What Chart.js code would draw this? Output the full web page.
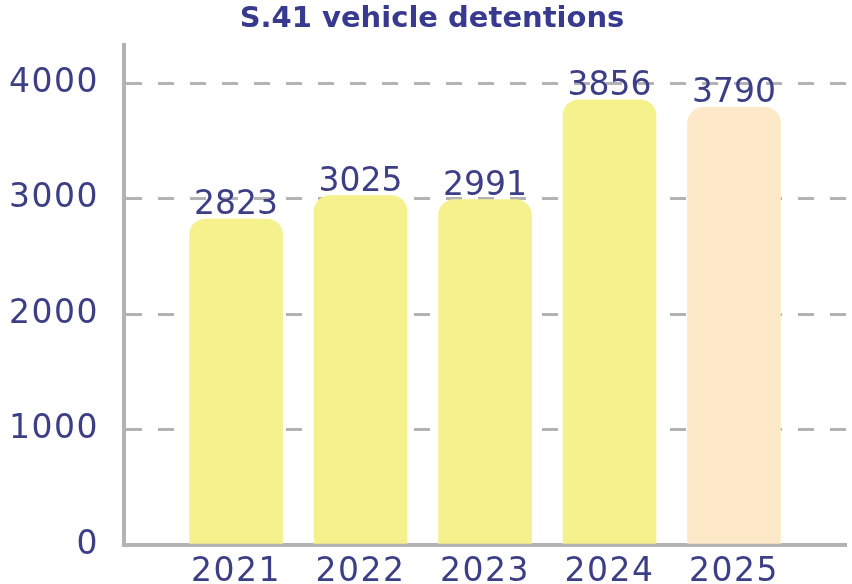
<!DOCTYPE html>
<html>
<head>
<meta charset="utf-8">
<script src="https://cdn.jsdelivr.net/npm/chart.js@4"></script>
<style>
  html, body { margin: 0; padding: 0; background: #ffffff; }
  #wrap { width: 852px; height: 584px; }
</style>
</head>
<body>
<div id="wrap"><canvas id="detentionsChart"></canvas></div>
<script>
// Chart data
const chartTitle = 'S.41 vehicle detentions';
const years = ['2021', '2022', '2023', '2024', '2025'];
const detentions = [2823, 3025, 2991, 3856, 3790];
const yTicks = [0, 1000, 2000, 3000, 4000];
const barColors = ['#f5f18c', '#f5f18c', '#f5f18c', '#f5f18c', '#fde9c7'];

const textColor = '#3c3f86';
const titleColor = '#373a8e';
const axisColor = '#b3b3b6';
const numFont = '"DejaVu Sans", sans-serif';

// Wider spacing for the axis numbers
const numberSpacing = {
    id: 'numberSpacing',
    beforeDraw(chart) {
        chart.ctx.letterSpacing = '1.5px';
    }
};

// Value labels above each bar + the title
const valueLabels = {
    id: 'valueLabels',
    afterDatasetsDraw(chart) {
        const ctx = chart.ctx;
        const meta = chart.getDatasetMeta(0);
        ctx.save();
        ctx.letterSpacing = '0px';
        ctx.font = '33px ' + numFont;
        ctx.fillStyle = textColor;
        ctx.textAlign = 'center';
        ctx.textBaseline = 'alphabetic';
        meta.data.forEach((bar, i) => {
            ctx.fillText(String(detentions[i]), bar.x, bar.y - 5);
        });
        ctx.restore();
    },
    afterDraw(chart) {
        const ctx = chart.ctx;
        ctx.save();
        ctx.letterSpacing = '0px';
        ctx.font = 'bold 29px "DejaVu Sans", sans-serif';
        ctx.fillStyle = titleColor;
        ctx.textAlign = 'center';
        ctx.textBaseline = 'middle';
        ctx.fillText(chartTitle, chart.width / 2 + 6, 19);
        ctx.restore();
    }
};

document.addEventListener('DOMContentLoaded', () => {
    const ctx = document.getElementById('detentionsChart').getContext('2d');
    new Chart(ctx, {
        type: 'bar',
        data: {
            datasets: [{
                data: detentions.map((v, i) => ({ x: i, y: v })),
                backgroundColor: barColors,
                borderRadius: 16,
                borderSkipped: 'start',
                barThickness: 93
            }]
        },
        options: {
            responsive: true,
            maintainAspectRatio: false,
            animation: false,
            layout: { padding: { left: 0, right: 6, top: 45, bottom: 0 } },
            plugins: {
                legend: { display: false },
                tooltip: { enabled: false },
                title: { display: false }
            },
            scales: {
                x: {
                    type: 'linear',
                    offset: false,
                    min: -0.9,
                    max: years.length - 1 + 0.9,
                    afterBuildTicks: (scale) => {
                        scale.ticks = years.map((y, i) => ({ value: i }));
                    },
                    afterFit: (scale) => { scale.height = 39; },
                    grid: { display: false, offset: false },
                    border: { display: true, color: axisColor, width: 4 },
                    ticks: {
                        color: textColor,
                        font: { family: numFont, size: 33 },
                        padding: 0,
                        maxRotation: 0,
                        autoSkip: false,
                        callback: (value) => years[value]
                    }
                },
                y: {
                    min: 0,
                    max: 4330,
                    afterBuildTicks: (scale) => {
                        scale.ticks = yTicks.map(v => ({ value: v }));
                    },
                    afterFit: (scale) => {
                        scale.width = 124;
                        scale.paddingTop = 0;
                        scale.paddingBottom = 0;
                    },
                    border: { display: true, color: axisColor, width: 4, dash: [16, 16] },
                    grid: {
                        color: (c) => c.tick.value === 0 ? 'rgba(0,0,0,0)' : axisColor,
                        lineWidth: 3,
                        drawTicks: false
                    },
                    ticks: {
                        color: textColor,
                        font: { family: numFont, size: 33 },
                        padding: 25,
                        callback: (value) => String(value)
                    }
                }
            }
        },
        plugins: [numberSpacing, valueLabels]
    });
});
</script>
</body>
</html>
